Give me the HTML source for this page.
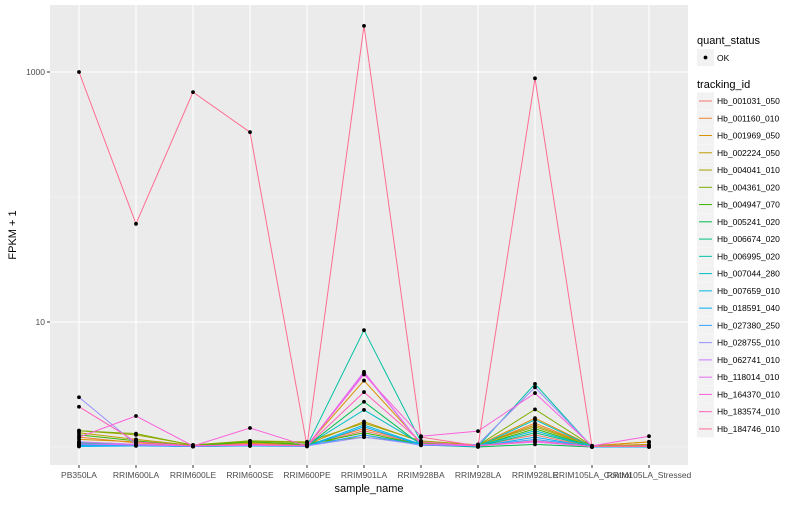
<!DOCTYPE html>
<html><head><meta charset="utf-8"><style>
body{margin:0;background:#fff;font-family:"Liberation Sans",sans-serif;}
svg text{font-family:"Liberation Sans",sans-serif;}
</style></head><body>
<svg id="c" width="800" height="500" xmlns="http://www.w3.org/2000/svg">
<rect x="50" y="5" width="638" height="460" fill="#ebebeb"/>
<g id="grid"></g><g id="lines"></g><g id="pts"></g><g id="axes"></g><g id="legend"></g>
</svg>
<script>
const categories=["PB350LA","RRIM600LA","RRIM600LE","RRIM600SE","RRIM600PE","RRIM901LA","RRIM928BA","RRIM928LA","RRIM928LE","RRIM105LA_Control","RRIM105LA_Stressed"];
const seriesNames=["Hb_001031_050","Hb_001160_010","Hb_001969_050","Hb_002224_050","Hb_004041_010","Hb_004361_020","Hb_004947_070","Hb_005241_020","Hb_006674_020","Hb_006995_020","Hb_007044_280","Hb_007659_010","Hb_018591_040","Hb_027380_250","Hb_028755_010","Hb_062741_010","Hb_118014_010","Hb_164370_010","Hb_183574_010","Hb_184746_010"];
const colors=["#F8766D","#EA8331","#D89000","#C09B00","#A3A500","#7CAE00","#39B600","#00BB4E","#00BF7D","#00C1A3","#00BFC4","#00BAE0","#00B0F6","#35A2FF","#9590FF","#C77CFF","#E76BF3","#FA62DB","#FF62BC","#FF6C91"];
const s0=[1.10,1.05,1.02,1.05,1.03,1.35,1.05,1.02,1.25,1.00,1.00];
const s1=[1.20,1.08,1.02,1.08,1.04,1.40,1.06,1.02,1.55,1.02,1.10];
const s2=[1.15,1.10,1.02,1.06,1.03,3.40,1.08,1.03,1.70,1.02,1.10];
const s3=[1.30,1.15,1.03,1.10,1.05,1.60,1.10,1.03,1.50,1.02,1.05];
const s4=[1.35,1.25,1.04,1.12,1.10,1.55,1.12,1.04,1.45,1.02,1.03];
const s5=[1.35,1.28,1.03,1.12,1.08,1.20,1.06,1.03,2.00,1.02,1.02];
const s6=[1.25,1.12,1.02,1.10,1.05,1.30,1.05,1.02,1.40,1.01,1.02];
const s7=[1.05,1.03,1.01,1.03,1.02,2.30,1.04,1.00,1.05,1.00,1.01];
const s8=[1.08,1.04,1.01,1.03,1.02,1.25,1.05,1.01,1.30,1.01,1.02];
const s9=[1.02,1.03,1.01,1.02,1.02,8.60,1.10,1.01,3.20,1.00,1.01];
const s10=[1.03,1.04,1.02,1.04,1.03,1.98,1.06,1.01,1.65,1.01,1.02];
const s11=[1.02,1.03,1.01,1.03,1.02,1.50,1.05,1.02,1.35,1.01,1.01];
const s12=[1.01,1.02,1.01,1.02,1.01,1.45,1.04,1.01,1.20,1.00,1.00];
const s13=[1.04,1.03,1.01,1.03,1.02,1.25,1.03,1.02,1.15,1.01,1.01];
const s14=[2.50,1.05,1.02,1.04,1.02,1.20,1.04,1.05,3.00,1.01,1.02];
const s15=[1.10,1.05,1.02,1.04,1.02,3.90,1.05,1.03,1.10,1.01,1.02];
const s16=[1.06,1.04,1.02,1.03,1.02,4.00,1.05,1.02,1.10,1.01,1.02];
const s17=[1.20,1.77,1.02,1.42,1.02,3.80,1.22,1.34,2.70,1.02,1.22];
const s18=[2.10,1.10,1.02,1.05,1.02,2.75,1.10,1.02,1.12,1.01,1.02];
const s19=[1000,61,690,330,1.02,2340,1.20,1.02,890,1.01,1.01];
const series=[s0,s1,s2,s3,s4,s5,s6,s7,s8,s9,s10,s11,s12,s13,s14,s15,s16,s17,s18,s19];
const yTicks=[10,1000];
const yMinor=[1,100];
const NS="http://www.w3.org/2000/svg";
const X=i=>79+i*57;
const Y=v=>447-125*Math.log10(v);
function mk(tag,parent,at){const e=document.createElementNS(NS,tag);for(const k in at)e.setAttribute(k,at[k]);document.getElementById(parent).appendChild(e);return e;}
yMinor.forEach(v=>{const l=mk('line','grid',{x1:50,x2:688,y1:Y(v),y2:Y(v),stroke:'#f5f5f5','stroke-width':0.6});

});
yTicks.forEach(v=>{const l=mk('line','grid',{x1:50,x2:688,y1:Y(v),y2:Y(v),stroke:'#fff','stroke-width':1.1});


const t=mk('text','axes',{x:45,y:Y(v)+3,'text-anchor':'end','font-size':8.5,fill:'#4d4d4d'});t.textContent=v;


mk('line','axes',{x1:47,x2:50,y1:Y(v),y2:Y(v),stroke:'#333'});});
categories.forEach((c,i)=>{const l=mk('line','grid',{x1:X(i),x2:X(i),y1:5,y2:465,stroke:'#fff','stroke-width':1.1});


mk('line','axes',{x1:X(i),x2:X(i),y1:465,y2:468,stroke:'#333'});
const t=mk('text','axes',{x:X(i),y:478,'text-anchor':'middle','font-size':8.5,fill:'#4d4d4d'});t.textContent=c;

});
series.forEach((s,k)=>{const p=mk('polyline','lines',{points:s.map((v,i)=>X(i)+','+Y(v)).join(' '),fill:'none',stroke:colors[k],'stroke-width':1});


s.forEach((v,i)=>{const c=mk('circle','pts',{cx:X(i),cy:Y(v),r:1.9,fill:'#000'});

});});
let t=mk('text','axes',{x:369,y:492,'text-anchor':'middle','font-size':11,fill:'#000'});t.textContent='sample_name';


t=mk('text','axes',{x:0,y:0,'text-anchor':'middle','font-size':11,fill:'#000',transform:'translate(16,235) rotate(-90)'});t.textContent='FPKM + 1';


t=mk('text','legend',{x:697,y:44,'font-size':11,fill:'#000'});t.textContent='quant_status';


mk('rect','legend',{x:697,y:49,width:17,height:17,fill:'#f2f2f2'});
mk('circle','legend',{cx:705.5,cy:57.5,r:1.9,fill:'#000'});
t=mk('text','legend',{x:717,y:61,'font-size':8.5,fill:'#000'});t.textContent='OK';


t=mk('text','legend',{x:697,y:88,'font-size':11,fill:'#000'});t.textContent='tracking_id';


seriesNames.forEach((n,k)=>{const y=101+k*17.26;
mk('rect','legend',{x:697,y:y-8.5,width:17,height:17,fill:'#f2f2f2'});
mk('line','legend',{x1:699,x2:712,y1:y,y2:y,stroke:colors[k],'stroke-width':1});
const e=mk('text','legend',{x:717,y:y+3,'font-size':8.5,fill:'#000'});e.textContent=n;

});
</script>
</body></html>
